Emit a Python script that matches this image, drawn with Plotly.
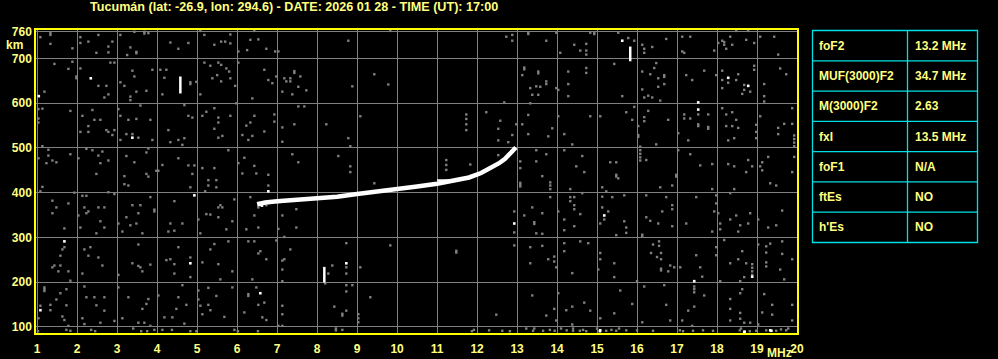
import plotly.graph_objects as go

# ---------------- data ----------------
title_text = "Tucumán (lat: -26.9, lon: 294.6) - DATE: 2026 01 28 - TIME (UT): 17:00"
x_ticks = list(range(1, 21))
y_ticks = [100, 200, 300, 400, 500, 600, 700, 760]

# main F2 echo trace (frequency MHz, virtual height km)
trace_f = [6.5, 6.7, 7.0, 7.3, 7.6, 8.0, 8.5, 9.0, 9.5, 10.0, 10.5, 11.0, 11.4, 11.8,
           12.1, 12.35, 12.55, 12.7, 12.82, 12.92, 12.97]
trace_h = [374, 378, 381, 383, 385, 387, 391, 397, 402, 408, 414, 420, 426, 434,
           444, 455, 466, 476, 486, 495, 501]
# thin secondary branch near the top
branch_f = [11.0, 11.6, 12.0, 12.3, 12.5, 12.68, 12.8]
branch_h = [428, 429, 438, 451, 464, 477, 489]

# white vertical echo bars (f, h_low, h_high)
bar_f = [4.58, 15.83, 8.18]
bar_lo = [622, 694, 199]
bar_hi = [660, 727, 234]

# white specks
white_pts = [(2.34, 656), (1.04, 616), (3.38, 523), (15.63, 740), (18.28, 657), (18.78, 639),
             (17.53, 602), (17.53, 586), (4.93, 394), (6.78, 403), (1.68, 291), (4.83, 242),
             (1.08, 137), (6.58, 175), (8.73, 242), (12.93, 331), (15.18, 349), (18.88, 212),
             (17.43, 202), (15.08, 92), (18.68, 88), (19.33, 92), (15.07, 90), (18.69, 89),
             (19.36, 91), (6.58, 373), (6.62, 371)]

# grey noise specks (f, h)
noise_pts = [
    (1.33, 757), (1.33, 753), (1.33, 733), (1.08, 748), (1.88, 723), (2.08, 748), (2.08, 735),
    (2.28, 738), (2.53, 753), (2.48, 713), (2.78, 727), (2.78, 714), (2.88, 738), (3.08, 753),
    (3.33, 725), (3.48, 712), (3.48, 715), (3.25, 708), (3.43, 760), (3.68, 760), (3.68, 756),
    (3.78, 757), (4.33, 736), (4.53, 722), (4.78, 735), (5.08, 762), (5.18, 753), (5.43, 731),
    (5.6, 738), (5.7, 738), (5.83, 754), (5.83, 734), (6.03, 716), (6.25, 719), (6.33, 742),
    (6.53, 743), (6.73, 722), (6.95, 716), (7.03, 716), (6.43, 762),
    (1.43, 688), (1.78, 677), (1.88, 693), (1.98, 656), (1.98, 660), (2.08, 678), (1.18, 626),
    (2.53, 639), (2.73, 639), (2.68, 613), (2.78, 620), (2.83, 691), (2.93, 691), (3.08, 647),
    (3.18, 639), (3.38, 673), (3.43, 660), (3.48, 626), (3.33, 615), (3.33, 607), (3.73, 628),
    (3.88, 675), (4.08, 675), (4.23, 675), (4.18, 657), (4.13, 620), (4.83, 643), (4.83, 647),
    (4.98, 648), (5.08, 620), (5.18, 691), (5.33, 684), (5.53, 691), (5.6, 686), (5.73, 678),
    (5.8, 671), (5.5, 663), (5.38, 656), (5.6, 649), (5.83, 656), (5.95, 639), (6.03, 691),
    (6.68, 675), (6.78, 652), (6.88, 645), (6.98, 660), (7.13, 626), (7.18, 656), (7.23, 649),
    (6.38, 611),
    (1.03, 587), (1.13, 588), (1.03, 566), (1.03, 557), (1.83, 583), (2.13, 572), (2.38, 585),
    (2.43, 563), (2.58, 563), (2.28, 549), (2.08, 536), (2.28, 536), (2.73, 540), (2.78, 536),
    (2.88, 529), (2.93, 540), (3.03, 587), (3.08, 572), (3.28, 563), (3.48, 565), (3.83, 563),
    (3.58, 595), (3.23, 531), (3.38, 531), (3.53, 523), (3.08, 518), (3.88, 518), (4.28, 540),
    (4.68, 596), (4.78, 572), (4.88, 568), (4.53, 518), (4.68, 522), (4.63, 507), (4.33, 513),
    (5.13, 572), (5.23, 581), (5.43, 589), (5.53, 568), (5.53, 557), (5.83, 572), (5.43, 543),
    (5.53, 523), (5.63, 527), (5.98, 600), (6.13, 529), (6.23, 550), (6.33, 557), (6.43, 572),
    (6.28, 518), (6.38, 527), (6.68, 537), (6.93, 575), (6.93, 559), (7.13, 546), (7.13, 514),
    (1.13, 504), (1.28, 496), (1.28, 483), (1.03, 477), (1.23, 466), (1.38, 472), (1.48, 468),
    (1.83, 486), (2.03, 477), (2.23, 498), (2.38, 495), (2.53, 483), (2.63, 492), (2.58, 466),
    (2.78, 472), (2.48, 442), (3.18, 437), (3.23, 482), (3.43, 468), (3.73, 490), (3.78, 499),
    (3.73, 442), (3.78, 436), (3.98, 449), (4.03, 449), (4.13, 462), (4.53, 477), (4.78, 461),
    (4.93, 461), (4.88, 442), (5.13, 455), (5.43, 455), (5.28, 428), (5.48, 428), (5.78, 495),
    (6.03, 466), (6.18, 478), (6.43, 460), (6.13, 443), (6.48, 443), (6.78, 440),
    (9.83, 762), (8.78, 740), (12.73, 749), (12.88, 753), (12.88, 740), (13.28, 759),
    (13.28, 755), (7.43, 672), (7.43, 668), (7.33, 656), (7.33, 649), (7.58, 660), (7.53, 637),
    (7.73, 629), (7.38, 620), (9.43, 665), (8.88, 638), (9.78, 642), (7.53, 593), (7.68, 593),
    (7.43, 553), (8.23, 553), (9.08, 571), (8.78, 522), (8.83, 504), (7.38, 486), (7.53, 468),
    (8.53, 482), (8.83, 459), (8.83, 446), (11.73, 575), (11.73, 565), (11.73, 553),
    (11.73, 540), (12.23, 580), (12.58, 561), (12.53, 543), (12.53, 517), (12.78, 513),
    (12.88, 529), (12.98, 553), (12.68, 602), (13.18, 680), (13.18, 676), (13.13, 663),
    (13.53, 671), (13.53, 667), (13.33, 634), (13.48, 638), (13.58, 637), (13.38, 619),
    (13.53, 619), (13.33, 600), (13.28, 574), (13.13, 553), (13.28, 531), (13.48, 495),
    (11.23, 473), (11.23, 462), (11.23, 451), (11.83, 463), (12.53, 484), (13.08, 470),
    (13.08, 455), (13.48, 470), (13.63, 437),
    (13.73, 740), (13.98, 758), (14.83, 758), (14.93, 758), (14.93, 755), (14.73, 733),
    (14.73, 718), (14.73, 709), (14.58, 718), (14.43, 731), (14.08, 713), (15.53, 758),
    (15.78, 746), (15.93, 740), (16.13, 731), (16.18, 722), (16.18, 713), (16.38, 726),
    (16.73, 744), (17.13, 749), (17.33, 749), (17.13, 716), (17.18, 713), (17.93, 718),
    (18.03, 735), (18.13, 740), (18.18, 731), (18.23, 722), (18.18, 737), (18.33, 749),
    (18.38, 731), (18.48, 762), (18.73, 742), (18.93, 735), (19.08, 749), (19.43, 749),
    (19.53, 709), (18.78, 762),
    (13.73, 649), (13.73, 643), (13.98, 634), (14.03, 630), (14.28, 671), (14.28, 643),
    (14.28, 616), (14.73, 679), (14.73, 668), (15.43, 688), (15.63, 616), (16.13, 671),
    (16.33, 665), (16.43, 679), (16.48, 690), (16.53, 656), (16.68, 663), (16.68, 659),
    (16.68, 643), (16.53, 637), (16.13, 631), (16.18, 613), (16.28, 617), (16.38, 613),
    (16.58, 606), (17.23, 663), (17.38, 652), (17.68, 673), (17.98, 663), (18.13, 673),
    (18.13, 652), (18.28, 646), (18.48, 652), (18.53, 665), (18.13, 634), (18.68, 641),
    (18.68, 630), (18.63, 621), (18.83, 626), (18.93, 684), (18.93, 675), (19.18, 643),
    (19.18, 616), (19.18, 604), (19.58, 678), (19.73, 665),
    (17.53, 575), (17.53, 553), (17.53, 549), (17.78, 547), (17.78, 543), (17.18, 575),
    (17.33, 566), (17.18, 566), (17.78, 575), (17.03, 533), (17.28, 517), (18.23, 575),
    (18.38, 580), (18.48, 563), (18.23, 549), (18.38, 549), (18.53, 545), (18.28, 517),
    (18.43, 522), (18.13, 589), (19.08, 571), (18.98, 552), (18.98, 536), (18.98, 522),
    (19.53, 545), (19.53, 531), (19.68, 554), (19.88, 554), (19.88, 589), (19.93, 528),
    (19.93, 520), (19.93, 512), (19.93, 504), (14.03, 571), (13.88, 544), (13.78, 526),
    (14.18, 531), (14.83, 571), (15.08, 571), (14.38, 508), (15.73, 580), (15.88, 563),
    (15.93, 592), (16.03, 549), (16.03, 529), (16.03, 525), (16.18, 569), (16.18, 560),
    (16.28, 583), (16.78, 563), (16.48, 508), (16.08, 503), (16.08, 495), (16.08, 487),
    (16.08, 479), (16.08, 472), (13.73, 486), (14.18, 495), (14.63, 482), (14.48, 459),
    (14.68, 446), (15.33, 468), (15.48, 468), (15.48, 440), (15.53, 432), (15.48, 436),
    (16.23, 473), (16.98, 440), (16.98, 436), (17.03, 495), (17.33, 486), (17.58, 461),
    (17.88, 464), (18.28, 464), (18.43, 459), (18.78, 473), (18.88, 459), (18.73, 446),
    (19.08, 459), (19.13, 468), (19.13, 450), (19.28, 480), (19.93, 480), (19.88, 446),
    (1.13, 413), (1.08, 403), (1.38, 382), (1.48, 367), (1.38, 354), (1.78, 376), (1.68, 320),
    (1.93, 400), (2.13, 393), (2.23, 393), (2.18, 367), (2.28, 358), (2.23, 354), (2.53, 367),
    (2.68, 367), (2.78, 401), (2.93, 397), (2.58, 336), (2.68, 322), (2.08, 322), (2.48, 309),
    (2.03, 349), (3.03, 331), (3.18, 419), (3.28, 416), (3.23, 345), (3.38, 372), (3.58, 372),
    (3.53, 354), (3.48, 331), (3.33, 327), (3.13, 313), (3.63, 309), (3.83, 390), (3.93, 358),
    (3.93, 362), (4.43, 381), (4.33, 331), (4.63, 331), (4.28, 313), (4.43, 315), (4.83, 412),
    (5.2, 403), (5.28, 416), (5.48, 412), (5.33, 351), (5.23, 352), (5.53, 367), (5.58, 372),
    (5.63, 367), (5.53, 345), (5.03, 340), (5.08, 309), (5.73, 318), (5.88, 336), (5.93, 385),
    (6.33, 390), (6.43, 349), (6.53, 367), (6.73, 372), (6.53, 322), (6.23, 318), (7.03, 319),
    (7.13, 349), (6.78, 416), (6.88, 381), (6.95, 380), (7.05, 379),
    (1.68, 278), (1.63, 273), (1.58, 259), (1.58, 237), (1.53, 224), (1.38, 233), (1.43, 237),
    (1.78, 224), (1.83, 203), (2.18, 273), (2.33, 278), (2.28, 259), (2.53, 255), (2.13, 219),
    (2.63, 237), (3.03, 216), (3.38, 242), (3.53, 236), (3.58, 233), (3.83, 239), (3.53, 284),
    (3.63, 224), (4.23, 249), (4.33, 251), (4.43, 240), (4.53, 278), (4.83, 255), (4.43, 219),
    (4.83, 211), (5.13, 244), (5.33, 273), (5.43, 285), (5.53, 240), (5.78, 291), (5.88, 224),
    (5.58, 206), (6.28, 291), (6.43, 291), (6.58, 269), (6.53, 264), (6.73, 251), (6.38, 206),
    (6.98, 293), (7.18, 251), (7.13, 202),
    (1.18, 188), (1.18, 184), (1.18, 180), (1.08, 147), (1.33, 149), (1.33, 137), (1.48, 161),
    (1.58, 175), (1.73, 184), (1.73, 148), (1.63, 123), (1.68, 115), (1.78, 102), (1.03, 119),
    (2.18, 190), (2.23, 166), (2.43, 166), (2.68, 166), (2.48, 148), (2.68, 136), (2.13, 119),
    (2.18, 106), (2.58, 109), (2.93, 113), (3.03, 188), (3.28, 166), (3.63, 140), (3.78, 162),
    (3.73, 151), (3.13, 119), (3.53, 109), (3.68, 109), (3.83, 102), (4.03, 170), (4.18, 121),
    (4.38, 121), (4.53, 166), (4.48, 140), (4.63, 193), (4.73, 149), (4.68, 107), (5.03, 181),
    (5.03, 161), (5.08, 147), (5.13, 128), (5.28, 187), (5.28, 149), (5.33, 137), (5.48, 169),
    (5.68, 122), (5.88, 188), (6.28, 169), (6.28, 173), (6.48, 188), (6.68, 154), (6.53, 149),
    (6.63, 121), (6.73, 115), (6.18, 132), (7.13, 147), (7.13, 128), (7.03, 102), (7.13, 102),
    (13.08, 418), (13.08, 414), (13.08, 422), (9.43, 421), (7.48, 363), (7.48, 322),
    (7.18, 301), (7.33, 273), (7.13, 248), (7.13, 228), (8.73, 287), (8.73, 233), (8.73, 219),
    (8.38, 237), (9.08, 233), (9.83, 282), (11.48, 270), (11.48, 266), (8.28, 219), (8.73, 193),
    (8.88, 193), (8.73, 179), (9.33, 166), (8.43, 145), (8.73, 136), (8.63, 125), (8.63, 129),
    (9.03, 128), (9.03, 119), (9.03, 110), (8.63, 93), (12.48, 127), (12.93, 358), (12.93, 311),
    (12.93, 282), (13.18, 349), (13.38, 367), (13.43, 334), (13.43, 330), (13.48, 309),
    (13.63, 354), (13.63, 308), (13.33, 278), (13.63, 281), (13.33, 242), (13.38, 170),
    (13.23, 96), (13.43, 96), (8.2, 197),
    (13.83, 423), (13.83, 416), (13.83, 408), (13.83, 390), (14.33, 408), (14.33, 390),
    (14.33, 381), (14.43, 390), (14.43, 372), (14.43, 363), (14.58, 352), (14.18, 340),
    (14.18, 316), (14.43, 325), (14.03, 358), (14.63, 399), (15.13, 412), (15.13, 391),
    (15.23, 403), (15.13, 367), (15.18, 340), (15.38, 390), (15.68, 394), (15.28, 358),
    (15.08, 331), (15.68, 336), (15.73, 322), (15.73, 310), (15.48, 305), (16.13, 306),
    (16.13, 302), (16.23, 394), (16.23, 345), (16.33, 337), (16.53, 331), (16.58, 412),
    (16.88, 416), (16.88, 372), (16.88, 363), (16.88, 325), (16.73, 390), (16.63, 358),
    (17.48, 390), (17.23, 331), (17.88, 408), (17.98, 394), (17.98, 376), (17.93, 358),
    (18.03, 354), (17.88, 313), (18.08, 331), (18.08, 318), (18.33, 399), (18.43, 408),
    (18.33, 340), (18.48, 349), (18.58, 327), (18.78, 331), (18.53, 313), (18.83, 354),
    (19.33, 421), (19.48, 416), (19.28, 322), (19.48, 327), (19.63, 360), (19.03, 340),
    (13.93, 257), (13.93, 246), (13.98, 233), (13.78, 251), (14.18, 287), (14.18, 269),
    (14.38, 220), (14.58, 291), (14.78, 287), (15.08, 265), (15.08, 251), (15.43, 242),
    (15.43, 211), (15.03, 228), (16.0, 202), (16.4, 284), (16.55, 291), (16.55, 281),
    (16.35, 265), (16.5, 256), (16.6, 265), (16.6, 251), (16.6, 226), (16.6, 230), (16.78, 224),
    (16.83, 237), (16.93, 233), (17.08, 233), (17.48, 260), (17.58, 233), (17.63, 212),
    (17.98, 278), (17.98, 260), (18.18, 294), (18.33, 242), (18.53, 251), (18.63, 269),
    (18.73, 242), (18.68, 211), (18.58, 202), (18.88, 240), (18.88, 232), (18.88, 224),
    (18.88, 216), (19.03, 284), (19.23, 280), (19.23, 266), (19.23, 244), (19.23, 235),
    (19.33, 286), (19.63, 291), (19.63, 263), (19.58, 228), (19.68, 206), (19.88, 251),
    (18.08, 202), (17.43, 190), (17.43, 184), (17.43, 177),
    (14.03, 175), (13.93, 140), (13.98, 114), (13.73, 125), (14.23, 137), (14.38, 145),
    (14.38, 105), (14.68, 154), (14.83, 136), (15.08, 119), (15.43, 130), (15.58, 181),
    (15.88, 151), (16.18, 190), (16.13, 110), (16.68, 193), (16.73, 149), (16.83, 114),
    (17.13, 114), (17.28, 136), (17.43, 145), (17.38, 102), (17.68, 170), (18.33, 162),
    (18.33, 140), (18.33, 114), (18.58, 175), (18.63, 184), (18.58, 131), (18.58, 118),
    (18.68, 109), (18.83, 109), (19.03, 105), (19.18, 173), (19.13, 132), (19.38, 149),
    (19.38, 127), (19.88, 149), (19.88, 114),
    (1.02, 90), (1.73, 93), (1.83, 91), (2.35, 93), (2.45, 90), (3.4, 96), (3.6, 90),
    (3.75, 90), (3.93, 93), (4.13, 93), (4.37, 93), (4.83, 90), (4.98, 90), (5.93, 93),
    (6.02, 90), (6.52, 90), (8.47, 92), (8.47, 96), (11.87, 90), (11.92, 93), (12.3, 92),
    (12.63, 91), (12.82, 90), (13.4, 91), (13.65, 91), (13.82, 93), (13.94, 91), (14.24, 92),
    (14.4, 91), (14.4, 96), (14.57, 91), (14.65, 93), (14.73, 90), (15.23, 91), (15.36, 93),
    (15.48, 91), (15.73, 92), (16.4, 91), (17.07, 92), (17.15, 90), (17.4, 91), (17.65, 92),
    (17.9, 91), (18.57, 92), (18.82, 90), (18.98, 91), (19.23, 92), (19.48, 91), (19.73, 92),
    (19.78, 96), (14.1, 96), (15.0, 96), (15.55, 96), (16.0, 92), (18.6, 96), (19.6, 94),
]

# parameter table
table_labels = ["foF2", "MUF(3000)F2", "M(3000)F2", "fxI", "foF1", "ftEs", "h'Es"]
table_values = ["13.2 MHz", "34.7 MHz", "2.63", "13.5 MHz", "N/A", "NO", "NO"]

# ---------------- styling / layout ----------------
W, H = 998, 359
L, R, T, B = 36, 201, 30, 26
PW, PH = W - L - R, H - T - B
YEL = "#ffff80"
BORDER = "#ffff00"
CYAN = "#00e0e6"
GREY = "#808080"
FONT = "Liberation Sans"


def pxx(px):
    return (px - L) / PW


def pxy(py):
    return 1 - (py - T) / PH


fig = go.Figure()

nf = [p[0] for p in noise_pts]
nh = [p[1] for p in noise_pts]
fig.add_trace(go.Scatter(x=nf, y=nh, mode="markers",
                         marker=dict(symbol="square", size=2.4, color=GREY, line=dict(width=0)),
                         hoverinfo="skip", showlegend=False))

# echo trace
fig.add_trace(go.Scatter(x=trace_f, y=trace_h, mode="lines",
                         line=dict(color="white", width=4.5), showlegend=False))
fig.add_trace(go.Scatter(x=branch_f, y=branch_h, mode="lines",
                         line=dict(color="white", width=1.6), showlegend=False))

# vertical white bars
bx, by = [], []
for f, lo, hi in zip(bar_f, bar_lo, bar_hi):
    bx += [f, f, None]
    by += [lo, hi, None]
fig.add_trace(go.Scatter(x=bx, y=by, mode="lines", line=dict(color="white", width=2.5),
                         showlegend=False))

wf = [p[0] for p in white_pts]
wh = [p[1] for p in white_pts]
fig.add_trace(go.Scatter(x=wf, y=wh, mode="markers",
                         marker=dict(symbol="square", size=2.6, color="white", line=dict(width=0)),
                         showlegend=False))

# table shapes and text
tx0, tx1, tmid = 812.5, 977.5, 907.5
ty0, ty1 = 30.5, 242.5
rh = (ty1 - ty0) / len(table_labels)
shapes = [dict(type="rect", xref="paper", yref="paper", x0=pxx(tx0), x1=pxx(tx1),
               y0=pxy(ty0), y1=pxy(ty1), line=dict(color=CYAN, width=1.3))]
shapes.append(dict(type="line", xref="paper", yref="paper", x0=pxx(tmid), x1=pxx(tmid),
                   y0=pxy(ty0), y1=pxy(ty1), line=dict(color=CYAN, width=1.3)))
annotations = []
for i, (lab, val) in enumerate(zip(table_labels, table_values)):
    if i > 0:
        yy = ty0 + i * rh
        shapes.append(dict(type="line", xref="paper", yref="paper", x0=pxx(tx0), x1=pxx(tx1),
                           y0=pxy(yy), y1=pxy(yy), line=dict(color=CYAN, width=1.3)))
    yc = ty0 + (i + 0.5) * rh
    annotations.append(dict(text=lab, xref="paper", yref="paper", x=pxx(817), y=pxy(yc),
                            xanchor="left", yanchor="middle", showarrow=False,
                            font=dict(family=FONT, size=12, color=YEL, weight="bold")))
    annotations.append(dict(text=val, xref="paper", yref="paper", x=pxx(912.5), y=pxy(yc),
                            xanchor="left", yanchor="middle", showarrow=False,
                            font=dict(family=FONT, size=12, color=YEL, weight="bold")))

annotations.append(dict(text=title_text, xref="paper", yref="paper", x=pxx(294), y=pxy(7.5),
                        xanchor="center", yanchor="middle", showarrow=False,
                        font=dict(family=FONT, size=12.6, color=YEL, weight="bold")))
annotations.append(dict(text="km", xref="paper", yref="paper", x=pxx(14), y=pxy(45),
                        xanchor="center", yanchor="middle", showarrow=False,
                        font=dict(family=FONT, size=12, color=YEL, weight="bold")))
annotations.append(dict(text="MHz", xref="paper", yref="paper", x=pxx(779), y=pxy(353),
                        xanchor="center", yanchor="middle", showarrow=False,
                        font=dict(family=FONT, size=12, color=YEL, weight="bold")))

fig.update_layout(
    width=W, height=H, margin=dict(l=L, r=R, t=T, b=B),
    paper_bgcolor="black", plot_bgcolor="black",
    shapes=shapes, annotations=annotations, showlegend=False,
    xaxis=dict(range=[0.97, 20.0], tickvals=x_ticks, ticktext=[str(v) for v in x_ticks],
               showgrid=True, gridcolor=GREY, gridwidth=1, zeroline=False,
               showline=True, linecolor=BORDER, linewidth=1.5, mirror=True,
               ticks="", ticklabelstandoff=4, automargin=False,
               tickfont=dict(family=FONT, size=12, color=YEL, weight="bold")),
    yaxis=dict(range=[86, 764], tickvals=y_ticks, ticktext=[str(v) for v in y_ticks],
               showgrid=True, gridcolor=GREY, gridwidth=1, zeroline=False,
               showline=True, linecolor=BORDER, linewidth=1.5, mirror=True,
               ticks="", automargin=False,
               tickfont=dict(family=FONT, size=12, color=YEL, weight="bold")),
)

fig.write_html("out.html")
